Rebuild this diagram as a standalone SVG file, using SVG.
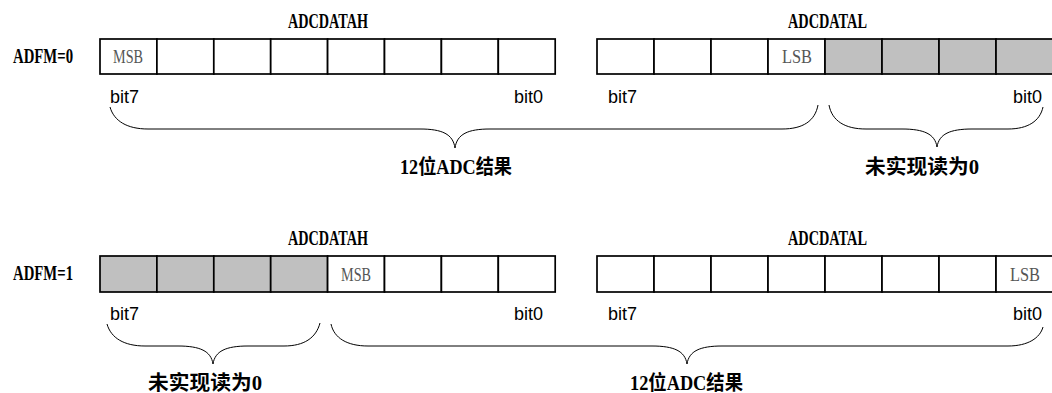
<svg xmlns="http://www.w3.org/2000/svg" width="1052" height="393" viewBox="0 0 1052 393">
<style>
.cell{fill:#fff;stroke:#000;stroke-width:1.7}
.g{fill:#c0c0c0}
.lbl{font-family:"Liberation Serif","Noto Sans CJK SC",serif;font-weight:bold;font-size:22px;fill:#000}
.cn{font-family:"Liberation Serif","Noto Sans CJK SC",sans-serif;font-weight:bold;font-size:20px;fill:#000}
.sb{font-family:"Liberation Serif",serif;font-size:19px;fill:#555}
.bit{font-family:"Liberation Sans",Arial,sans-serif;font-size:18px;fill:#000}
.br{fill:none;stroke:#000;stroke-width:1}
</style>
<rect width="1052" height="393" fill="#fff"/>

<g id="row0-label"><text class="lbl" x="13" y="63" textLength="60" lengthAdjust="spacingAndGlyphs">ADFM=0</text></g>
<g id="row0-ADCDATAH">
<text class="lbl" x="288" y="28" textLength="80" lengthAdjust="spacingAndGlyphs">ADCDATAH</text>
<rect class="cell" x="100" y="39" width="56.9" height="35"/>
<rect class="cell" x="156.9" y="39" width="56.9" height="35"/>
<rect class="cell" x="213.8" y="39" width="56.9" height="35"/>
<rect class="cell" x="270.7" y="39" width="56.9" height="35"/>
<rect class="cell" x="327.6" y="39" width="56.9" height="35"/>
<rect class="cell" x="384.5" y="39" width="56.9" height="35"/>
<rect class="cell" x="441.4" y="39" width="56.9" height="35"/>
<rect class="cell" x="498.3" y="39" width="56.9" height="35"/>
<text class="sb" x="113" y="63" textLength="30" lengthAdjust="spacingAndGlyphs">MSB</text>
<text class="bit" x="110" y="103">bit7</text>
<text class="bit" x="543" y="103" text-anchor="end">bit0</text>
</g>
<g id="row0-ADCDATAL">
<text class="lbl" x="788" y="28" textLength="79" lengthAdjust="spacingAndGlyphs">ADCDATAL</text>
<rect class="cell" x="597" y="39" width="57" height="35"/>
<rect class="cell" x="654" y="39" width="57" height="35"/>
<rect class="cell" x="711" y="39" width="57" height="35"/>
<rect class="cell" x="768" y="39" width="57" height="35"/>
<rect class="cell g" x="825" y="39" width="57" height="35"/>
<rect class="cell g" x="882" y="39" width="57" height="35"/>
<rect class="cell g" x="939" y="39" width="57" height="35"/>
<rect class="cell g" x="996" y="39" width="57" height="35"/>
<text class="sb" x="782" y="63" textLength="30" lengthAdjust="spacingAndGlyphs">LSB</text>
<text class="bit" x="608" y="103">bit7</text>
<text class="bit" x="1042" y="103" text-anchor="end">bit0</text>
</g>

<g id="row1-label"><text class="lbl" x="13" y="280" textLength="60" lengthAdjust="spacingAndGlyphs">ADFM=1</text></g>
<g id="row1-ADCDATAH">
<text class="lbl" x="288" y="245" textLength="80" lengthAdjust="spacingAndGlyphs">ADCDATAH</text>
<rect class="cell g" x="100" y="256" width="56.9" height="36"/>
<rect class="cell g" x="156.9" y="256" width="56.9" height="36"/>
<rect class="cell g" x="213.8" y="256" width="56.9" height="36"/>
<rect class="cell g" x="270.7" y="256" width="56.9" height="36"/>
<rect class="cell" x="327.6" y="256" width="56.9" height="36"/>
<rect class="cell" x="384.5" y="256" width="56.9" height="36"/>
<rect class="cell" x="441.4" y="256" width="56.9" height="36"/>
<rect class="cell" x="498.3" y="256" width="56.9" height="36"/>
<text class="sb" x="341" y="281" textLength="30" lengthAdjust="spacingAndGlyphs">MSB</text>
<text class="bit" x="110" y="320">bit7</text>
<text class="bit" x="543" y="320" text-anchor="end">bit0</text>
</g>
<g id="row1-ADCDATAL">
<text class="lbl" x="788" y="245" textLength="79" lengthAdjust="spacingAndGlyphs">ADCDATAL</text>
<rect class="cell" x="597" y="256" width="57" height="36"/>
<rect class="cell" x="654" y="256" width="57" height="36"/>
<rect class="cell" x="711" y="256" width="57" height="36"/>
<rect class="cell" x="768" y="256" width="57" height="36"/>
<rect class="cell" x="825" y="256" width="57" height="36"/>
<rect class="cell" x="882" y="256" width="57" height="36"/>
<rect class="cell" x="939" y="256" width="57" height="36"/>
<rect class="cell" x="996" y="256" width="57" height="36"/>
<text class="sb" x="1010" y="281" textLength="30" lengthAdjust="spacingAndGlyphs">LSB</text>
<text class="bit" x="608" y="320">bit7</text>
<text class="bit" x="1042" y="320" text-anchor="end">bit0</text>
</g>

<g id="connectors">
<path class="br" d="M110,107 C114,121 127,129 148,129 L420,129 C442,129 453,134 455,148 C457,134 468,129 490,129 L782,129 C803,129 815,121 818,105"/>
<path class="br" d="M829,105 C832,121 845,129 866,129 L902,129 C924,129 935,134 937,147 C939,134 950,129 972,129 L1008,129 C1028,129 1040,121 1043,107"/>
<path class="br" d="M107,324 C111,338 124,346 145,346 L178,346 C200,346 211,351 213,364 C215,351 226,346 248,346 L284,346 C304,346 316,338 320,323"/>
<path class="br" d="M331,324 C334,338 347,346 368,346 L652,346 C674,346 685,351 687,364 C689,351 700,346 722,346 L1008,346 C1028,346 1040,338 1043,327"/>
</g>

<g id="brace-labels">
<text class="cn" x="400" y="174" textLength="112" lengthAdjust="spacingAndGlyphs">12位ADC结果</text>
<text class="cn" x="865" y="174" textLength="114" lengthAdjust="spacingAndGlyphs">未实现读为0</text>
<text class="cn" x="148" y="390" textLength="114" lengthAdjust="spacingAndGlyphs">未实现读为0</text>
<text class="cn" x="630" y="390" textLength="113" lengthAdjust="spacingAndGlyphs">12位ADC结果</text>
</g>
</svg>
